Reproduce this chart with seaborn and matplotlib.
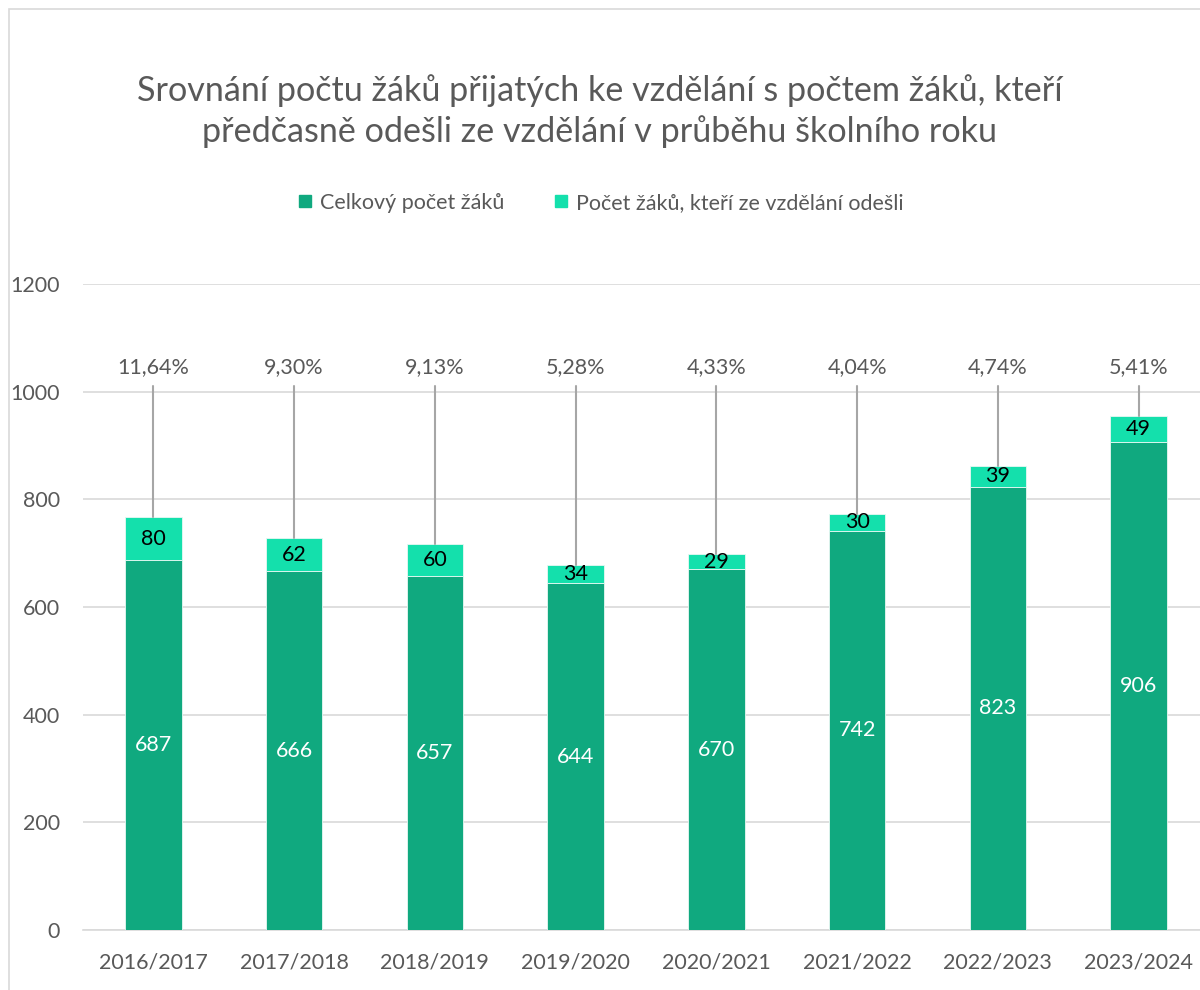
import pandas as pd
import matplotlib.pyplot as plt
import seaborn as sns
from matplotlib.patches import Rectangle
from matplotlib.lines import Line2D

# data
years = ['2016/2017', '2017/2018', '2018/2019', '2019/2020',
         '2020/2021', '2021/2022', '2022/2023', '2023/2024']
celkem = [687, 666, 657, 644, 670, 742, 823, 906]
odesli = [80, 62, 60, 34, 29, 30, 39, 49]
procenta = ['11,64%', '9,30%', '9,13%', '5,28%', '4,33%', '4,04%', '4,74%', '5,41%']

DARK = '#10A97F'
LIGHT = '#14E0AC'
GREY = '#595959'
GRID = '#D9D9D9'

sns.set_theme(style='white')
plt.rcParams['font.family'] = ['Lato', 'DejaVu Sans']

df = pd.DataFrame({'rok': years, 'celkem': celkem, 'odesli': odesli})

fig = plt.figure(figsize=(12, 9.9), dpi=100)
# outer chart border (cropped on right and bottom)
fig.patches.append(Rectangle((9 / 1200, -0.1), 1.2, 1 - 9 / 990 + 0.1,
                             transform=fig.transFigure, fill=False,
                             edgecolor=GRID, linewidth=1.2))

ax = fig.add_axes([83 / 1200, 60 / 990, 1126 / 1200, 646 / 990])

sns.barplot(data=df, x='rok', y='celkem', order=years, color=DARK,
            width=0.4, saturation=1, ax=ax, zorder=3, edgecolor='#E8F8F3',
            linewidth=0.6)
sns.barplot(data=df, x='rok', y='odesli', order=years, color=LIGHT,
            width=0.4, saturation=1, bottom=df['celkem'], ax=ax, zorder=3,
            edgecolor='#E8F8F3', linewidth=0.6)

ax.set_ylim(0, 1200)
ax.set_xlim(-0.5, len(years) - 0.5)
ax.set_yticks(range(0, 1201, 200))
ax.yaxis.grid(True, color=GRID, linewidth=1.2, zorder=0)
ax.xaxis.grid(False)
for s in ['left', 'right', 'top']:
    ax.spines[s].set_visible(False)
ax.spines['bottom'].set_color(GRID)
ax.spines['bottom'].set_linewidth(1.2)
ax.tick_params(axis='y', length=0, pad=16.5, labelsize=15.5, labelcolor=GREY)
ax.tick_params(axis='x', length=0, pad=16, labelsize=15.5, labelcolor=GREY)
ax.set_xlabel('')
ax.set_ylabel('')

# data labels and callouts
for i in range(len(years)):
    ax.text(i, celkem[i] / 2, str(celkem[i]), ha='center', va='center',
            color='white', fontsize=15.5, zorder=5)
    ax.text(i, celkem[i] + odesli[i] / 2, str(odesli[i]), ha='center',
            va='center', color='black', fontsize=15.5, zorder=5)
    top = celkem[i] + odesli[i]
    ax.plot([i, i], [top, 1010], color='#A6A6A6', linewidth=1.5, zorder=4)
    ax.text(i, 1045, procenta[i], ha='center', va='center', color=GREY,
            fontsize=15.5, zorder=5)

fig.text(0.5, 1 - 111 / 990,
         'Srovnání počtu žáků přijatých ke vzdělání s počtem žáků, kteří\n'
         'předčasně odešli ze vzdělání v průběhu školního roku',
         ha='center', va='center', fontsize=24.6, color=GREY, linespacing=1.28)

handles = [Line2D([], [], marker='s', linestyle='', markersize=8.5,
                  markerfacecolor=DARK, markeredgecolor=DARK),
           Line2D([], [], marker='s', linestyle='', markersize=8.5,
                  markerfacecolor=LIGHT, markeredgecolor=LIGHT)]
fig.legend(handles, ['Celkový počet žáků', 'Počet žáků, kteří ze vzdělání odešli'],
           loc='center', bbox_to_anchor=(0.5, 1 - 203 / 990), ncol=2,
           frameon=False, fontsize=15.5, labelcolor=GREY, handletextpad=0.3,
           columnspacing=2.2, handlelength=0.8)

fig.savefig('out.png', dpi=100)
